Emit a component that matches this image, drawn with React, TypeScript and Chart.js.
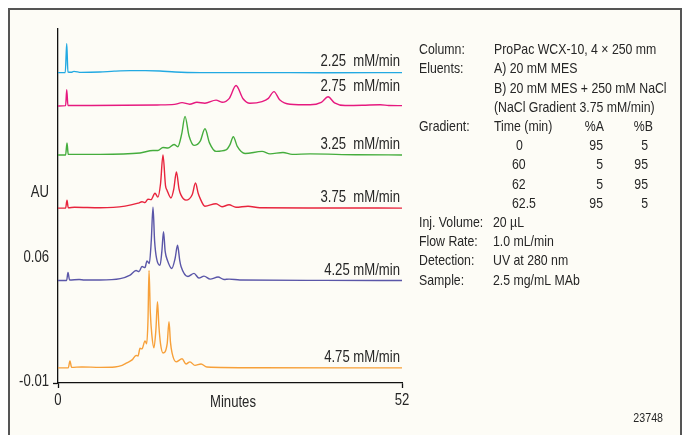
import { useEffect, useRef } from "react";
import { Chart, registerables } from "chart.js";

Chart.register(...registerables);

const FONT = '"Liberation Sans", Arial, sans-serif';
const SQUEEZE = 0.82;
const TEXT = "#262626";

// ---- data ----
const seriesLabels = ["2.25  mM/min", "2.75  mM/min", "3.25  mM/min", "3.75  mM/min", "4.25 mM/min", "4.75 mM/min"];
const seriesColors = ["#22a9e2", "#e6197f", "#45ad3d", "#e8243d", "#5a56a8", "#f7a039"];

const t225 = [0, 1.1, 1.32, 1.5, 2.0, 2.4, 3.5, 6.3, 8.5, 10.9, 13.2, 15.4, 17.7, 21.5, 30, 40, 52];
const v225 = [0.1645, 0.1645, 0.1809, 0.1648, 0.1647, 0.1652, 0.1646, 0.1648, 0.1653, 0.1656, 0.1656, 0.1654, 0.1648, 0.1645, 0.1645, 0.1644, 0.1645];

const t275 = [0, 1.15, 1.32, 1.5, 5, 10, 15, 17.6, 18.75, 19.9, 21.0, 22.2, 23.89, 24.8, 25.9, 26.91, 27.97, 29.0, 30.84, 31.8, 32.65, 33.5, 35.07, 38.1, 39.8, 40.82, 41.8, 43.4, 46, 48.7, 50, 52];
const v275 = [0.1457, 0.1459, 0.1549, 0.146, 0.146, 0.1461, 0.1463, 0.1466, 0.1476, 0.1467, 0.1478, 0.1473, 0.149, 0.1478, 0.15, 0.1572, 0.1498, 0.1473, 0.1482, 0.15, 0.1538, 0.1492, 0.1467, 0.1464, 0.1478, 0.1509, 0.1475, 0.146, 0.1461, 0.1464, 0.146, 0.1459];

const t325 = [0, 1.15, 1.36, 1.55, 6.35, 12.4, 14.36, 15.1, 15.87, 16.63, 17.54, 18.1, 18.7, 19.2, 19.8, 20.56, 21.5, 22.22, 22.9, 23.89, 25.4, 26.0, 26.5, 27.1, 28.27, 30.84, 32.05, 34.01, 35.4, 38.1, 45, 52];
const v325 = [0.1182, 0.1182, 0.125, 0.1185, 0.1185, 0.1193, 0.1207, 0.1207, 0.1224, 0.1221, 0.1241, 0.1228, 0.13, 0.1399, 0.129, 0.1236, 0.126, 0.1329, 0.125, 0.1202, 0.121, 0.124, 0.1284, 0.123, 0.119, 0.1202, 0.1188, 0.1196, 0.1185, 0.1188, 0.1183, 0.1182];

const t375 = [0, 1.15, 1.36, 1.55, 2.5, 6.35, 10.13, 12.1, 12.7, 13.15, 13.6, 14.06, 14.66, 15.1, 15.5, 15.87, 16.25, 16.48, 17.08, 17.5, 17.9, 18.3, 18.6, 19.35, 20.3, 20.78, 21.2, 21.47, 22.2, 23.89, 24.8, 25.85, 26.9, 28.72, 30.5, 40, 52];
const v375 = [0.0883, 0.0883, 0.0928, 0.0885, 0.0888, 0.0885, 0.0894, 0.0911, 0.0919, 0.0914, 0.0933, 0.0931, 0.0967, 0.0945, 0.102, 0.1182, 0.101, 0.0984, 0.094, 0.099, 0.1086, 0.099, 0.0956, 0.0928, 0.096, 0.1024, 0.0965, 0.0939, 0.0894, 0.0908, 0.0891, 0.0902, 0.0888, 0.0894, 0.0885, 0.0884, 0.0883];

const t425 = [0, 1.3, 1.51, 1.75, 3.2, 4, 6.35, 9.4, 10.9, 11.8, 12.25, 12.7, 13.15, 13.45, 13.8, 14.1, 14.36, 14.6, 14.9, 15.42, 15.7, 15.95, 16.2, 16.55, 17.2, 17.7, 18.07, 18.4, 18.6, 19.65, 20.56, 21.3, 22.07, 23.0, 24.19, 25.1, 25.85, 27.5, 40, 52];
const v425 = [0.0476, 0.0476, 0.0521, 0.0479, 0.0482, 0.0479, 0.0479, 0.0487, 0.0507, 0.0532, 0.0527, 0.0555, 0.0549, 0.0586, 0.0572, 0.07, 0.0888, 0.07, 0.06, 0.0561, 0.064, 0.075, 0.064, 0.0589, 0.0544, 0.06, 0.0674, 0.059, 0.0555, 0.0499, 0.0516, 0.049, 0.0501, 0.0484, 0.0496, 0.0482, 0.0484, 0.0479, 0.0477, 0.0476];

const t475 = [0, 1.55, 1.81, 2.05, 3.6, 6.35, 8.6, 9.7, 10.4, 11.2, 11.8, 12.1, 12.4, 12.7, 13.15, 13.4, 13.6, 13.76, 13.95, 14.2, 14.5, 14.8, 15.04, 15.25, 15.5, 15.87, 16.5, 16.78, 17.0, 17.24, 17.84, 18.75, 19.35, 19.95, 20.7, 21.62, 22.5, 30, 52];
const v475 = [-0.0015, -0.0015, 0.0024, -0.0012, -0.001, -0.0012, -0.001, -0.0001, 0.0013, 0.003, 0.0055, 0.0052, 0.0095, 0.0092, 0.0137, 0.012, 0.025, 0.0532, 0.03, 0.0165, 0.0098, 0.02, 0.0357, 0.022, 0.012, 0.0069, 0.012, 0.0244, 0.013, 0.0069, 0.0019, 0.0036, 0.0007, 0.0019, -0.0001, 0.0007, -0.001, -0.0014, -0.0015];

const seriesTimes = [t225, t275, t325, t375, t425, t475];
const seriesValues = [v225, v275, v325, v375, v425, v475];

const xTicks = [0, 52];
const xLabels = ["0", "52"];
const yTicks = [-0.01, 0.06];
const yLabels = ["-0.01", "0.06"];
const yTitle = "AU";
const xTitle = "Minutes";

const panelRows = [
  ["Column:", "ProPac WCX-10, 4 × 250 mm"],
  ["Eluents:", "A) 20 mM MES"],
  ["", "B) 20 mM MES + 250 mM NaCl"],
  ["", "(NaCl Gradient 3.75 mM/min)"],
];
const gradientHeader = ["Gradient:", "Time (min)", "%A", "%B"];
const gradientTime = ["0", "60", "62", "62.5"];
const gradientA = ["95", "5", "5", "95"];
const gradientB = ["5", "95", "95", "5"];
const panelRows2 = [
  ["Inj. Volume:", "20 µL"],
  ["Flow Rate:", "1.0 mL/min"],
  ["Detection:", "UV at 280 nm"],
  ["Sample:", "2.5 mg/mL MAb"],
];
const figureId = "23748";

// label lift above each trace baseline (px)
const labelLift = [10.5, 19, 10.5, 11, 9.5, 10.5];

function say(ctx: CanvasRenderingContext2D, s: string, x: number, y: number, align: CanvasTextAlign, size: number) {
  ctx.save();
  ctx.translate(x, y);
  ctx.scale(SQUEEZE, 1);
  ctx.font = `${size}px ${FONT}`;
  ctx.textAlign = align;
  ctx.textBaseline = "middle";
  ctx.fillStyle = TEXT;
  ctx.fillText(s, 0, 0);
  ctx.restore();
}

const annotate = {
  id: "annotate",
  afterDatasetsDraw(chart: any) {
    const { ctx } = chart;
    const x = chart.scales.x;
    const y = chart.scales.y;

    // axis tick labels
    x.ticks.forEach((t: any, i: number) => {
      say(ctx, xLabels[i], x.getPixelForValue(t.value), 401, "center", 16);
    });
    y.ticks.forEach((t: any, i: number) => {
      say(ctx, yLabels[i], y.left + y.width - 9, y.getPixelForValue(t.value) - 1, "right", 16);
    });
    say(ctx, yTitle, 49, 193, "right", 16);
    say(ctx, xTitle, 233, 403, "center", 16);

    // series labels
    seriesValues.forEach((vals, i) => {
      const base = y.getPixelForValue(vals[vals.length - 1]);
      say(ctx, seriesLabels[i], x.right - 2, base - labelLift[i], "right", 16);
    });

    // right panel
    const step = 19.2;
    let row = 0;
    const lineY = (r: number) => 50 + r * step;
    panelRows.forEach((r) => {
      if (r[0]) say(ctx, r[0], 419, lineY(row), "left", 15);
      say(ctx, r[1], 494, lineY(row), "left", 15);
      row++;
    });
    say(ctx, gradientHeader[0], 419, lineY(row), "left", 15);
    say(ctx, gradientHeader[1], 494, lineY(row), "left", 15);
    say(ctx, gradientHeader[2], 604, lineY(row), "right", 15);
    say(ctx, gradientHeader[3], 653, lineY(row), "right", 15);
    row++;
    gradientTime.forEach((t, i) => {
      say(ctx, t, t.length === 1 ? 516 : 512, lineY(row), "left", 15);
      say(ctx, gradientA[i], 603, lineY(row), "right", 15);
      say(ctx, gradientB[i], 648, lineY(row), "right", 15);
      row++;
    });
    panelRows2.forEach((r) => {
      say(ctx, r[0], 419, lineY(row), "left", 15);
      say(ctx, r[1], 493, lineY(row), "left", 15);
      row++;
    });
    say(ctx, figureId, 663, 418, "right", 13);
  },
};

export default function App() {
  const ref = useRef<HTMLCanvasElement | null>(null);
  useEffect(() => {
    if (!ref.current) return;
    const chart = new Chart(ref.current, {
      type: "line",
      data: {
        datasets: seriesValues.map((vals, i) => ({
          label: seriesLabels[i],
          data: vals.map((v, j) => ({ x: seriesTimes[i][j], y: v })),
          borderColor: seriesColors[i],
          borderWidth: 1.4,
          pointRadius: 0,
          fill: false,
          cubicInterpolationMode: "monotone" as const,
        })),
      },
      options: {
        responsive: false,
        devicePixelRatio: 1,
        animation: false,
        events: [],
        layout: { padding: { left: 0, top: 29, right: 284, bottom: 0 } },
        plugins: { legend: { display: false }, tooltip: { enabled: false }, title: { display: false } },
        scales: {
          x: {
            type: "linear",
            min: 0,
            max: 52,
            afterBuildTicks: (s: any) => {
              s.ticks = xTicks.map((v) => ({ value: v }));
            },
            afterFit: (s: any) => {
              s.height = 52;
            },
            grid: { display: true, drawOnChartArea: false, drawTicks: true, tickLength: 5, tickColor: "#111", tickWidth: 1.3 },
            border: { display: true, color: "#111", width: 1.3 },
            ticks: { display: false, autoSkip: false },
          },
          y: {
            type: "linear",
            min: -0.01,
            max: 0.189,
            afterBuildTicks: (s: any) => {
              s.ticks = yTicks.map((v) => ({ value: v }));
            },
            afterFit: (s: any) => {
              s.width = 58;
            },
            grid: {
              display: true,
              drawOnChartArea: false,
              drawTicks: true,
              tickLength: 5,
              tickWidth: 1.3,
              tickColor: (c: any) => (c.tick && c.tick.value === yTicks[0] ? "#111" : "rgba(0,0,0,0)"),
            },
            border: { display: true, color: "#111", width: 1.3 },
            ticks: { display: false, autoSkip: false },
          },
        },
      },
      plugins: [annotate],
    });
    return () => chart.destroy();
  }, []);

  return (
    <div style={{ position: "absolute", left: 0, top: 0, width: 686, height: 435, overflow: "hidden", background: "#ffffff" }}>
      <div
        style={{
          position: "absolute",
          left: 8,
          top: 8,
          width: 674,
          height: 470,
          boxSizing: "border-box",
          border: "2px solid #555",
          background: "#fdfcf6",
        }}
      />
      <canvas ref={ref} width={686} height={435} style={{ position: "absolute", left: 0, top: 0, display: "block" }} />
    </div>
  );
}
